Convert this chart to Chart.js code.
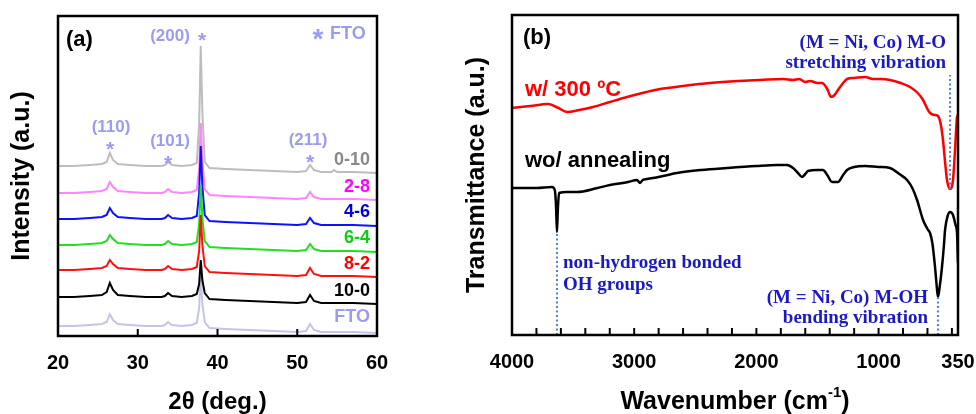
<!DOCTYPE html>
<html>
<head>
<meta charset="utf-8">
<script src="https://cdn.jsdelivr.net/npm/chart.js@4"></script>
<style>
  body { margin: 0; background: #fff; }
  #wrap { position: relative; width: 976px; height: 414px; }
  canvas { position: absolute; top: 0; }
  #xrd { left: 0; }
  #ftir { left: 440px; }
</style>
</head>
<body>
<div id="wrap">
  <canvas id="xrd" width="440" height="414"></canvas>
  <canvas id="ftir" width="536" height="414"></canvas>
</div>
<script>
// ---- panel (a) XRD data: 2theta and stacked intensities (a.u., offset per sample) ----
const xrdAngle = [20, 22, 24, 25.5, 26.1, 26.5, 26.9, 27.5, 29, 31, 33, 33.4, 33.8, 34.3, 35.5, 36.8, 37.4, 37.7, 37.9, 38.1, 38.4, 39, 41, 44, 47, 50, 51.1, 51.6, 52.1, 53, 54.3, 54.6, 55, 57, 60];
const xrd0_10 = [170,170,171,172,174,183,176,172,171,170,170,171,174,171,170,171,173,212,290,224,174,168,167,166,165,164,165,171,166,164,164,166,164,164,163];
const xrd2_8  = [143,143,144,145,147,154,149,145,144,143,143,144,147,144,143,144,146,168,213,175,147,141,140,139,138,137,138,144,139,137,137,137,137,137,136];
const xrd4_6  = [117,117,118,119,121,128,123,119,118,117,117,118,121,118,117,118,120,143,190,150,121,115,114,113,112,111,112,118,113,111,111,111,111,111,110];
const xrd6_4  = [91,91,92,93,95,101,97,93,92,91,91,92,95,92,91,92,94,112,151,118,95,89,88,87,86,85,86,92,87,85,85,85,85,85,84];
const xrd8_2  = [66,66,67,68,70,76,72,68,67,66,66,67,70,67,66,67,69,85,121,91,70,64,63,62,61,60,61,68,62,60,60,60,60,60,59];
const xrd10_0 = [39,39,40,41,44,53,46,41,40,39,39,40,43,40,39,40,42,52,76,56,43,37,36,35,34,33,34,41,35,33,33,33,33,33,32];
const xrdFTO  = [10,10,11,12,14,22,16,12,11,10,10,11,14,11,10,11,13,28,60,32,14,8,7,6,5,4,5,12,6,4,4,4,4,4,3];
const xrdTicks = [20, 30, 40, 50, 60];

// ---- panel (b) FTIR data ----
const annealedWn = [4000,3850,3705,3620,3550,3450,3337,3200,3059,2900,2789,2600,2380,2150,1970,1782,1700,1650,1600,1561,1500,1463,1420,1389,1360,1332,1290,1258,1200,1111,1046,980,907,820,743,680,636,600,579,540,514,490,473,455,440,415,391,374,358,350];
const annealedT  = [227,229,231,227,223,225,228,233,238,243,246,249,252,254,255,256,255,256,253,254,252,252,246,238,240,245,252,256,257,258,256,256,255,252,248,242,235,226,222,220,219,210,195,172,155,146,155,185,218,220];
const asPreparedWn = [4000,3800,3673,3650,3640,3632,3625,3615,3550,3468,3300,3198,3050,2977,2952,2930,2895,2800,2650,2450,2240,2000,1831,1749,1700,1660,1627,1600,1578,1500,1455,1420,1381,1332,1290,1258,1200,1111,1000,907,830,767,720,685,636,600,579,560,538,525,514,500,481,465,456,435,415,391,370,358,350];
const asPreparedT  = [147,147,148,145,130,103,125,142,143,143,147,150,153,155,152,155,156,158,162,165,167,169,170,170,167,162,158,161,164,165,165,160,153,153,160,165,168,169,168,167,161,155,146,135,115,106,102,92,68,50,38,48,68,90,105,119,123,120,110,102,72];
const ftirTicks = [4000, 3000, 2000, 1000, 350];
const ftirMinorTicks = [3800,3600,3400,3200,3000,2800,2600,2400,2200,2000,1800,1600,1400,1200,1000,800,600,400];
// dotted band markers: wavenumber, from, to
const bandOH  = [3632, 0, 103];
const bandMOH = [514, 0, 38];
const bandMO  = [415, 146, 260];

const lav = '#9b9bf2';

function pts(xs, ys) {
  return xs.map((x, i) => ({ x: x, y: ys[i] }));
}

// draws frame, inward ticks and free text
const decor = {
  id: 'decor',
  afterDraw(chart, args, o) {
    const ctx = chart.ctx;
    const { left, right, top, bottom } = chart.chartArea;
    const xs = chart.scales.x;
    ctx.save();
    ctx.strokeStyle = '#000';
    ctx.lineWidth = 2;
    o.ticks.forEach(v => {
      const px = xs.getPixelForValue(v);
      ctx.beginPath();
      ctx.moveTo(px, bottom);
      ctx.lineTo(px, bottom - 7);
      ctx.stroke();
    });
    ctx.lineWidth = 2.5;
    ctx.strokeRect(left, top, right - left, bottom - top);
    ctx.textBaseline = 'middle';
    o.texts.forEach(t => {
      ctx.font = t.font;
      ctx.fillStyle = t.color;
      ctx.textAlign = t.align || 'left';
      ctx.fillText(t.text, t.x, t.y);
    });
    if (o.after) o.after(ctx);
    ctx.restore();
  }
};

function xrdSet(label, data, color, order) {
  return {
    label: label,
    data: pts(xrdAngle, data),
    borderColor: color,
    borderWidth: 2,
    pointRadius: 0,
    tension: 0,
    order: order
  };
}

// keep the plot box where it is, whatever the edge tick labels need
function fixX(h) {
  return s => { s.height = h; s.paddingLeft = 0; s.paddingRight = 0; };
}

const sans = '"Liberation Sans", Arial, sans-serif';
const serif = '"Liberation Serif", "Times New Roman", serif';

new Chart(document.getElementById('xrd'), {
  type: 'line',
  data: {
    datasets: [
      xrdSet('0-10', xrd0_10, '#bdbdbd', 7),
      xrdSet('2-8', xrd2_8, '#ff85ff', 6),
      xrdSet('4-6', xrd4_6, '#1010ff', 5),
      xrdSet('6-4', xrd6_4, '#20e020', 4),
      xrdSet('8-2', xrd8_2, '#ff1010', 3),
      xrdSet('10-0', xrd10_0, '#000000', 1),
      xrdSet('FTO', xrdFTO, '#c4c4ea', 8)
    ]
  },
  options: {
    responsive: false,
    animation: false,
    layout: { padding: { top: 16, right: 63, left: 0, bottom: 0 } },
    plugins: {
      legend: { display: false },
      tooltip: { enabled: false },
      decor: {
        ticks: xrdTicks,
        texts: [
          { text: '(a)', x: 66, y: 40, font: 'bold 22px ' + sans, color: '#000' },
          { text: '(200)', x: 170, y: 36, font: 'bold 17px ' + sans, color: lav, align: 'center' },
          { text: '*', x: 202, y: 41, font: 'bold 21px ' + sans, color: lav, align: 'center' },
          { text: '*', x: 318, y: 40, font: 'bold 28px ' + sans, color: lav, align: 'center' },
          { text: 'FTO', x: 330, y: 34, font: 'bold 18px ' + sans, color: lav },
          { text: '(110)', x: 111, y: 127, font: 'bold 17px ' + sans, color: lav, align: 'center' },
          { text: '*', x: 110, y: 150, font: 'bold 21px ' + sans, color: lav, align: 'center' },
          { text: '(101)', x: 170, y: 141, font: 'bold 17px ' + sans, color: lav, align: 'center' },
          { text: '*', x: 168, y: 164, font: 'bold 21px ' + sans, color: lav, align: 'center' },
          { text: '(211)', x: 308, y: 140, font: 'bold 17px ' + sans, color: lav, align: 'center' },
          { text: '*', x: 310, y: 163, font: 'bold 21px ' + sans, color: lav, align: 'center' },
          { text: '0-10', x: 370, y: 160, font: 'bold 18px ' + sans, color: '#8a8a8a', align: 'right' },
          { text: '2-8', x: 370, y: 187, font: 'bold 18px ' + sans, color: '#ff00ff', align: 'right' },
          { text: '4-6', x: 370, y: 212, font: 'bold 18px ' + sans, color: '#0000dd', align: 'right' },
          { text: '6-4', x: 370, y: 238, font: 'bold 18px ' + sans, color: '#11cc11', align: 'right' },
          { text: '8-2', x: 370, y: 264, font: 'bold 18px ' + sans, color: '#ff0000', align: 'right' },
          { text: '10-0', x: 370, y: 291, font: 'bold 18px ' + sans, color: '#000', align: 'right' },
          { text: 'FTO', x: 370, y: 317, font: 'bold 18px ' + sans, color: lav, align: 'right' }
        ]
      }
    },
    scales: {
      x: {
        type: 'linear',
        min: 20,
        max: 60,
        afterFit: fixX(78),
        grid: { display: false, drawTicks: false },
        border: { display: false },
        ticks: { stepSize: 10, padding: 15, color: '#000', font: { family: sans, size: 20, weight: 'bold' }, maxRotation: 0 },
        title: { display: true, text: '2θ (deg.)', color: '#000', font: { family: sans, size: 24, weight: 'bold', lineHeight: 1 }, padding: { top: 0, bottom: 0 } }
      },
      y: {
        min: 0,
        max: 320,
        afterFit: s => { s.width = 58; },
        grid: { display: false, drawTicks: false },
        border: { display: false },
        ticks: { display: false },
        title: { display: true, text: 'Intensity (a.u.)', color: '#000', font: { family: sans, size: 25, weight: 'bold', lineHeight: 1.2 }, padding: { top: 7, bottom: 0 } }
      }
    }
  },
  plugins: [decor]
});

function bandSet(b) {
  return {
    data: [{ x: b[0], y: b[1] }, { x: b[0], y: b[2] }],
    borderColor: '#4a7fd4',
    borderWidth: 2,
    borderDash: [2, 2.5],
    pointRadius: 0,
    order: 0
  };
}

new Chart(document.getElementById('ftir'), {
  type: 'line',
  data: {
    datasets: [
      { label: 'w/ 300 ºC', data: pts(annealedWn, annealedT), borderColor: '#ff0000', borderWidth: 2.5, pointRadius: 0, tension: 0.3, cubicInterpolationMode: 'monotone', order: 2 },
      { label: 'wo/ annealing', data: pts(asPreparedWn, asPreparedT), borderColor: '#000000', borderWidth: 2.5, pointRadius: 0, tension: 0.3, cubicInterpolationMode: 'monotone', order: 1 },
      bandSet(bandOH),
      bandSet(bandMOH),
      bandSet(bandMO)
    ]
  },
  options: {
    responsive: false,
    animation: false,
    layout: { padding: { top: 15, right: 18, left: 0, bottom: 0 } },
    plugins: {
      legend: { display: false },
      tooltip: { enabled: false },
      decor: {
        ticks: ftirMinorTicks,
        texts: [
          { text: '(b)', x: 83, y: 38, font: 'bold 22px ' + sans, color: '#000' },
          { text: '(M = Ni, Co) M-O', x: 506, y: 43, font: 'bold 19px ' + serif, color: '#1a1ac0', align: 'right' },
          { text: 'stretching vibration', x: 506, y: 63, font: 'bold 19px ' + serif, color: '#1a1ac0', align: 'right' },
          { text: 'w/ 300 ºC', x: 85, y: 90, font: 'bold 22px ' + sans, color: '#ff0000' },
          { text: 'wo/ annealing', x: 85, y: 161, font: 'bold 22px ' + sans, color: '#000' },
          { text: 'non-hydrogen bonded', x: 123, y: 263, font: 'bold 19px ' + serif, color: '#1a1ac0' },
          { text: 'OH groups', x: 123, y: 285, font: 'bold 19px ' + serif, color: '#1a1ac0' },
          { text: '(M = Ni, Co) M-OH', x: 488, y: 298, font: 'bold 19px ' + serif, color: '#1a1ac0', align: 'right' },
          { text: 'bending vibration', x: 488, y: 318, font: 'bold 19px ' + serif, color: '#1a1ac0', align: 'right' }
        ],
        after: ctx => {
          // x axis title with superscript
          const main = 'bold 25px ' + sans;
          const sup = 'bold 15px ' + sans;
          ctx.fillStyle = '#000';
          ctx.textAlign = 'left';
          ctx.font = main;
          const w1 = ctx.measureText('Wavenumber (cm').width;
          const w3 = ctx.measureText(')').width;
          ctx.font = sup;
          const w2 = ctx.measureText('-1').width;
          let x = 295 - (w1 + w2 + w3) / 2;
          ctx.font = main;
          ctx.fillText('Wavenumber (cm', x, 402);
          ctx.font = sup;
          ctx.fillText('-1', x + w1, 393);
          ctx.font = main;
          ctx.fillText(')', x + w1 + w2, 402);
        }
      }
    },
    scales: {
      x: {
        type: 'linear',
        reverse: true,
        min: 350,
        max: 4000,
        afterFit: fixX(79),
        afterBuildTicks: s => { s.ticks = ftirTicks.map(v => ({ value: v })); },
        grid: { display: false, drawTicks: false },
        border: { display: false },
        ticks: { autoSkip: false, padding: 15, color: '#000', font: { family: sans, size: 20, weight: 'bold' }, maxRotation: 0, callback: v => String(v) }
      },
      y: {
        min: 0,
        max: 320,
        afterFit: s => { s.width = 72; },
        grid: { display: false, drawTicks: false },
        border: { display: false },
        ticks: { display: false },
        title: { display: true, text: 'Transmittance (a.u.)', color: '#000', font: { family: sans, size: 25, weight: 'bold', lineHeight: 1.2 }, padding: { top: 22, bottom: 0 } }
      }
    }
  },
  plugins: [decor]
});
</script>
</body>
</html>
